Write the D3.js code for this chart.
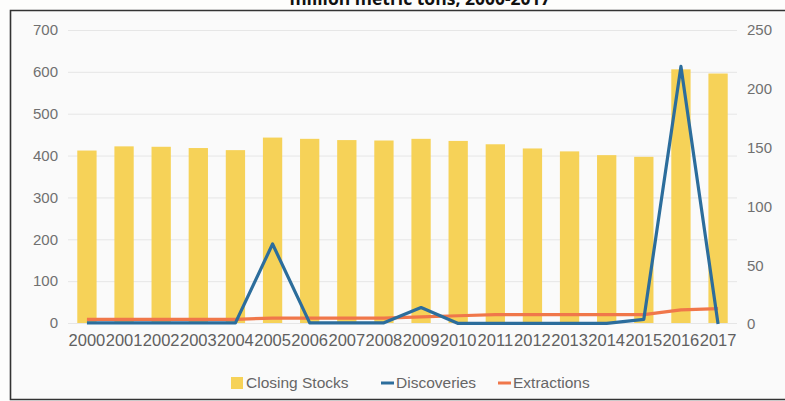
<!DOCTYPE html>
<html>
<head>
<meta charset="UTF-8">
<title></title>
<style type="text/css">
	body { margin: 0; background: #fff; }
	svg { display: block; }
	text { font-family: "Liberation Sans", Arial, sans-serif; }
</style>
</head>
<body>
<svg class="chart"></svg>
<script src="https://cdnjs.cloudflare.com/ajax/libs/d3/7.8.5/d3.min.js"></script>
<script type="text/javascript">
var years = ["2000","2001","2002","2003","2004","2005","2006","2007","2008","2009","2010","2011","2012","2013","2014","2015","2016","2017"];
var closingStocks = [412, 422, 421, 418, 413, 443, 440, 437, 436, 440, 435, 427, 417, 410, 401, 397, 606, 596];
var discoveries = [1, 1, 1, 1, 1, 68, 1, 1, 1, 14, 0.5, 0.5, 0.5, 0.5, 0.5, 4, 219, 0];
var extractions = [4, 4, 4, 4, 4, 5, 5, 5, 5, 6, 7, 8, 8, 8, 8, 8, 12, 13];
var leftTicks = [0, 100, 200, 300, 400, 500, 600, 700];
var rightTicks = [0, 50, 100, 150, 200, 250];
var legendNames = ["Closing Stocks", "Discoveries", "Extractions"];

var width = 785, height = 401;
var svg = d3.select(".chart").attr("width", width).attr("height", height);

// paper background + frame
svg.append("rect").attr("x", 0).attr("y", 0).attr("width", width).attr("height", height).attr("fill", "#fdfdfc");
svg.append("rect").attr("x", 10).attr("y", 10).attr("width", width - 10).attr("height", 389).attr("fill", "#fafafa");
svg.append("path").attr("d", "M" + width + ",10.5H10.5V399.5H" + width)
	.attr("fill", "none").attr("stroke", "#333").attr("stroke-width", 1.6);

// title (top line is cut off by the scan, as in the source)
svg.append("text").attr("x", 420).attr("y", 5)
	.attr("text-anchor", "middle")
	.style("font-family", "'Open Sans', sans-serif")
	.style("font-weight", "bold").style("font-size", "17.5px").attr("fill", "#111")
	.text("million metric tons, 2000-2017");

var plotL = 68, plotR = 737, plotT = 30, plotB = 323;

var x = d3.scaleBand().domain(years).range([plotL, plotR]).paddingInner(0.48).paddingOuter(0.25);
var yL = d3.scaleLinear().domain([0, 700]).range([plotB, plotT]);
var yR = d3.scaleLinear().domain([0, 250]).range([plotB + 1, plotT]);

// grid
svg.append("g").selectAll("line").data(leftTicks).join("line")
	.attr("x1", plotL).attr("x2", plotR)
	.attr("y1", function(d) { return yL(d) + 0.5; })
	.attr("y2", function(d) { return yL(d) + 0.5; })
	.attr("stroke", "#e6e6e6").attr("stroke-width", 1);

// left axis
var axL = svg.append("g").attr("transform", "translate(" + (plotL - 10) + ",0)")
	.call(d3.axisLeft(yL).tickValues(leftTicks).tickSize(0).tickPadding(0));
axL.select(".domain").remove();
axL.selectAll("text").attr("fill", "#707070").style("font-size", "15px");

// right axis
var axR = svg.append("g").attr("transform", "translate(" + (plotR + 10) + ",0)")
	.call(d3.axisRight(yR).tickValues(rightTicks).tickSize(0).tickPadding(0));
axR.select(".domain").remove();
axR.selectAll("text").attr("fill", "#707070").style("font-size", "15px");

// bottom axis
var axB = svg.append("g").attr("transform", "translate(0," + (plotB + 11) + ")")
	.call(d3.axisBottom(x).tickSize(0).tickPadding(0));
axB.select(".domain").remove();
axB.selectAll("text").attr("fill", "#606060").style("font-size", "16.5px").attr("dy", "0.71em");

// bars
svg.append("g").selectAll("rect").data(closingStocks).join("rect")
	.attr("x", function(d, i) { return x(years[i]); })
	.attr("y", function(d) { return yL(d); })
	.attr("width", x.bandwidth())
	.attr("height", function(d) { return plotB - yL(d); })
	.attr("fill", "#f6d258");

var line = d3.line()
	.x(function(d, i) { return x(years[i]) + x.bandwidth() / 2; })
	.y(function(d) { return yR(d); });

svg.append("path").datum(extractions).attr("d", line)
	.attr("fill", "none").attr("stroke", "#f0774a").attr("stroke-width", 3.2).attr("stroke-linejoin", "round");
svg.append("path").datum(discoveries).attr("d", line)
	.attr("fill", "none").attr("stroke", "#2c6d9c").attr("stroke-width", 3.2).attr("stroke-linejoin", "round");

// legend
var lg = svg.append("g").attr("transform", "translate(0,383)");
var lgX = [231, 381, 498];
lg.append("rect").attr("x", lgX[0]).attr("y", -6).attr("width", 12).attr("height", 12).attr("fill", "#f6d258");
lg.append("line").attr("x1", lgX[1]).attr("x2", lgX[1] + 13).attr("y1", 0).attr("y2", 0)
	.attr("stroke", "#2c6d9c").attr("stroke-width", 3);
lg.append("line").attr("x1", lgX[2]).attr("x2", lgX[2] + 13).attr("y1", 0).attr("y2", 0)
	.attr("stroke", "#f0774a").attr("stroke-width", 3);
lg.selectAll("text.lab").data(legendNames).join("text").attr("class", "lab")
	.attr("x", function(d, i) { return lgX[i] + 15; })
	.attr("y", 0).attr("dy", "0.35em")
	.attr("fill", "#666").style("font-size", "15.5px")
	.text(function(d) { return d; });
</script>
</body>
</html>
